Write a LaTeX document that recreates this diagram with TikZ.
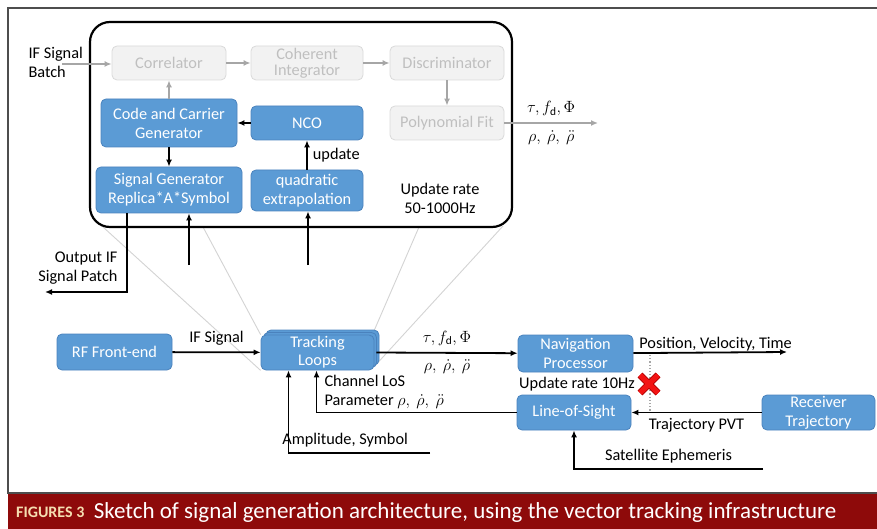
\RequirePackage{fix-cm}
\documentclass[tikz,border=0pt]{standalone}
\usepackage{amsmath}
\usepackage{fontspec}
\setmainfont{Carlito}
\usetikzlibrary{arrows.meta, positioning, calc, shadows, backgrounds}
\definecolor{boxblue}{HTML}{5B9BD5}
\definecolor{boxedge}{HTML}{4A82BD}
\definecolor{greyfill}{HTML}{F2F2F2}
\definecolor{greyedge}{HTML}{D9D9D9}
\definecolor{greytext}{HTML}{BFBFBF}
\definecolor{greyarrow}{HTML}{A6A6A6}
\definecolor{zoomgrey}{HTML}{D3D3D3}
\definecolor{framegrey}{HTML}{4D4D4D}
\definecolor{captionred}{HTML}{8E0A0A}
\definecolor{captionbeige}{HTML}{F5DDB0}
\definecolor{crossred}{HTML}{F21414}
\definecolor{crossedge}{HTML}{B00000}

\begin{document}
\begin{tikzpicture}[
	x=1pt, y=-1pt,
	font=\fontsize{16.3}{19}\selectfont,
	block/.style={rectangle, draw=boxedge, fill=boxblue, text=white, rounded corners=5pt, align=center, inner sep=0pt, line width=0.8pt},
	faded/.style={rectangle, draw=greyedge, fill=greyfill, text=greytext, rounded corners=5pt, align=center, inner sep=0pt, line width=0.8pt},
	line/.style={draw, line width=1.8pt, -{Latex[length=7pt, width=6pt]}},
	fadedline/.style={draw=greyarrow, line width=1.8pt, -{Latex[length=7pt, width=6pt]}},
	zoomray/.style={draw=zoomgrey, line width=0.9pt},
	label text/.style={inner sep=1pt}
	]
	\useasboundingbox (0,0) rectangle (877,529);
	
	% outer frame and caption bar
	\draw[framegrey, line width=1.6pt] (877,8) -- (8,8) -- (8,493) -- (877,493);
	\fill[captionred] (8,494) rectangle (877,529);
	\node[anchor=west, inner sep=0pt, text=captionbeige, font=\fontsize{16}{18}\selectfont\bfseries] (fig_label) at (16,512) {FIGURES 3};
	\node[right=9pt of fig_label, inner sep=0pt, text=white, font=\fontsize{23}{27}\selectfont] (caption_text) {Sketch of signal generation architecture, using the vector tracking infrastructure};
	
	%
	% Tracking loop detail (top)
	%
	\node[draw, line width=2.2pt, rounded corners=20pt, minimum width=422, minimum height=205] (loop_box) at (301,124.5) {};
	
	\node[faded, minimum width=114, minimum height=34] (correlator) at (169,63) {Correlator};
	\node[faded, minimum width=112, minimum height=34] (integrator) at (307,63) {Coherent\\[-3pt]Integrator};
	\node[faded, minimum width=114, minimum height=34] (discriminator) at (447,63) {Discriminator};
	\node[faded, minimum width=114, minimum height=34] (poly_fit) at (447,123) {Polynomial Fit};
	\node[block, minimum width=136, minimum height=48] (code_gen) at (169,123) {Code and Carrier\\Generator};
	\node[block, minimum width=112, minimum height=34] (nco) at (307,123) {NCO};
	\node[block, minimum width=146, minimum height=46] (signal_gen) at (169,190) {Signal Generator\\Replica*A*Symbol};
	\node[block, minimum width=112, minimum height=41] (quad_extra) at (307,190.5) {quadratic\\extrapolation};
	
	\node[align=center] (loop_rate) at (440,198) {Update rate\\50-1000Hz};
	\node[anchor=west, align=left] (if_batch) at (25,62) {IF Signal\\Batch};
	\node[anchor=east, align=right] (if_output) at (121,268) {Output IF\\Signal Patch};
	
	\coordinate (batch_in) at (62,64);
	\coordinate (loop_out) at (598,123);
	\coordinate (replica_in) at (189,265);
	\coordinate (extra_in) at (308,265);
	\coordinate (output_end) at (45,292);
	
	% grey processing chain
	\draw[fadedline] (batch_in) -- (batch_in -| correlator.west);
	\draw[fadedline] (correlator) -- (integrator);
	\draw[fadedline] (integrator) -- (discriminator);
	\draw[fadedline] (discriminator) -- (poly_fit);
	\draw[fadedline] (code_gen) -- (correlator);
	\draw[fadedline] (poly_fit) -- node[above=3pt, text=black] {$\tau, f_{\mathrm{d}}, \Phi$} node[below=3pt, text=black] {$\rho,\ \dot{\rho},\ \ddot{\rho}$} (loop_out);
	
	% generator chain
	\draw[line] (nco) -- (code_gen);
	\draw[line] (code_gen) -- (signal_gen);
	\draw[line] (quad_extra) -- node[right=4pt, label text] {update} (nco);
	\draw[line] (replica_in) -- (replica_in |- signal_gen.south);
	\draw[line] (extra_in) -- (extra_in |- quad_extra.south);
	\draw[line] ([xshift=-42pt]signal_gen.south) |- (output_end);
	
	%
	% Receiver chain (bottom)
	%
	\node[block, minimum width=115, minimum height=36] (rf_front) at (114.5,352) {RF Front-end};
	\node[block, minimum width=113, minimum height=35, double copy shadow={shadow xshift=2.5pt, shadow yshift=2.5pt}] (tracking) at (317.5,352.5) {Tracking\\[-1pt]Loops};
	\node[block, minimum width=115, minimum height=37] (nav_proc) at (575.5,353.5) {Navigation\\Processor};
	\node[block, minimum width=114, minimum height=35] (los) at (574,412.5) {Line-of-Sight};
	\node[block, minimum width=113, minimum height=35] (receiver_traj) at (818.5,412.5) {Receiver\\Trajectory};
	
	\node (nav_rate) at (577,384) {Update rate 10Hz};
	
	\coordinate (pvt_end) at (787,352);
	\coordinate (ephemeris_start) at (763,469);
	\coordinate (amplitude_start) at (430,453);
	\coordinate (pvt_tap) at (650,355);
	
	% zoom rays behind the tracking loops
	\begin{scope}[on background layer]
		\draw[zoomray] (103,227) -- (tracking.south west);
		\draw[zoomray] (203,227) -- (tracking.north west);
		\draw[zoomray] (419,227) -- ([xshift=-2pt]tracking.north east);
		\draw[zoomray] (503,226) -- ([yshift=4pt]tracking.south east);
	\end{scope}
	
	\draw[line] (rf_front) -- node[above=3pt] {IF Signal} (tracking);
	\draw[line] ([xshift=2pt]tracking.east) -- node[above=3pt] {$\tau, f_{\mathrm{d}}, \Phi$} node[below=3pt] {$\rho,\ \dot{\rho},\ \ddot{\rho}$} (nav_proc);
	\draw[line] (nav_proc) -- (pvt_end) node[pos=0, above right=0pt and 4pt, label text] {Position, Velocity, Time};
	\draw[greyarrow, line width=1.2pt, dotted] (pvt_tap) -- (pvt_tap |- los.east);
	\draw[line] (receiver_traj) -- node[below=2pt] {Trajectory PVT} (los);
	\draw[line] (ephemeris_start) -| (los.south) node[pos=0.25, above=2pt] {Satellite Ephemeris};
	\draw[line] (los.west) -| ([xshift=-1pt]tracking.south);
	\draw[line] (amplitude_start) -| ([xshift=-29pt]tracking.south) node[pos=0.3, above=2pt] {Amplitude, Symbol};
	\node[anchor=west, align=left] (los_param) at (321,392) {Channel LoS\\Parameter $\rho,\ \dot{\rho},\ \ddot{\rho}$};
	
	% red cross over the feedback tap
	\draw[crossedge, line width=7pt] (640,375) -- (658,393) (658,375) -- (640,393);
	\draw[crossred, line width=5pt] (640,375) -- (658,393) (658,375) -- (640,393);
	
\end{tikzpicture}
\end{document}
